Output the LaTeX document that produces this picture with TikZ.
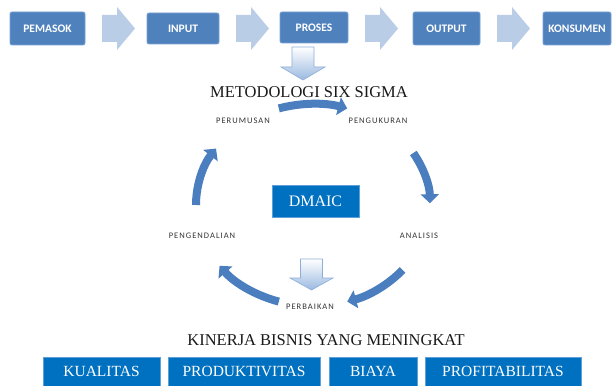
\documentclass[tikz,border=0pt]{standalone}
\usepackage{fontspec}
\setmainfont{Liberation Serif}
\newfontfamily\calib{Carlito}
\newfontfamily\lblf[LetterSpace=12]{Carlito}
\usetikzlibrary{arrows.meta}
\definecolor{topblue}{HTML}{4F81BD}
\definecolor{topedge}{HTML}{7BA1D4}
\definecolor{chevblue}{HTML}{B9CDE6}
\definecolor{boxblue}{HTML}{0070C0}
\definecolor{boxedge}{HTML}{5FA0DA}
\definecolor{cycblue}{HTML}{4A7EBF}
\definecolor{lblgray}{HTML}{333333}
\definecolor{downblue}{HTML}{9BB9E0}
\definecolor{downedge}{HTML}{8DAEDB}
\tikzset{
  topbox/.style={draw=topedge, line width=0.8pt, fill=topblue, rounded corners=2pt, text=white,
    font=\calib\bfseries\fontsize{11.5}{11.5}\selectfont, inner sep=0pt},
  dmaicbox/.style={draw=boxedge, line width=0.6pt, fill=boxblue, text=white,
    font=\fontsize{16}{16}\selectfont, inner sep=0pt},
  kpibox/.style={draw=boxedge, line width=0.6pt, fill=boxblue, text=white,
    font=\fontsize{15.5}{15.5}\selectfont, inner sep=0pt},
  lbl/.style={text=lblgray, font=\lblf\fontsize{8.5}{8.5}\selectfont, inner sep=0pt},
  ttl/.style={text=black!90, font=\fontsize{16.5}{16.5}\selectfont, inner sep=0pt},
  cyc/.style={draw=cycblue, line width=8pt, -{Triangle[width=18pt,length=9pt]}},
  chev/.style={fill=chevblue, draw=none},
  downarr/.style={top color=white, bottom color=downblue, draw=downedge, line width=0.6pt}
}
\begin{document}
\begin{tikzpicture}[x=1pt,y=-1pt]
\useasboundingbox (0,0) rectangle (612,385);
\fill[white] (0,0) rectangle (612,385);

% top chain
\node[topbox, minimum width=75pt, minimum height=33pt] (pemasok) at (47.5,28.5) {PEMASOK};
\node[topbox, minimum width=72pt, minimum height=31pt] (input) at (183,28.5) {INPUT};
\node[topbox, minimum width=68pt, minimum height=31pt] (proses) at (314,27.5) {PROSES};
\node[topbox, minimum width=67pt, minimum height=33pt] (output) at (446.5,28.5) {OUTPUT};
\node[topbox, minimum width=68pt, minimum height=33pt] (konsumen) at (577,28.5) {KONSUMEN};

% block chevrons
\foreach \sx in {102,236,365,497}{
  \fill[chev] (\sx,15) -- (\sx+15,15) -- (\sx+15,7) -- (\sx+33,28.5) -- (\sx+15,50) -- (\sx+15,42) -- (\sx,42) -- cycle;
}

% down arrow under PROSES
\shade[downarr] (292,47) -- (314,47) -- (314,67) -- (325,67) -- (303,80) -- (281,67) -- (292,67) -- cycle;

\node[ttl] (metod) at (309,92) {METODOLOGI SIX SIGMA};

% DMAIC cycle
\coordinate (c) at (313,205);
\node[dmaicbox, minimum width=87pt, minimum height=32pt] (dmaic) at (315.5,201) {DMAIC};
\node[lbl] (perumusan) at (243,121) {PERUMUSAN};
\node[lbl] (pengukuran) at (378,121) {PENGUKURAN};
\node[lbl] (pengendalian) at (202,236) {PENGENDALIAN};
\node[lbl] (analisis) at (419,236) {ANALISIS};
\node[lbl] (perbaikan) at (310,307) {PERBAIKAN};

\draw[cyc] ([shift={(-107:117 and 101)}]c) arc[start angle=-107,end angle=-73,x radius=117,y radius=101];
\draw[cyc] ([shift={(-31:117 and 101)}]c) arc[start angle=-31,end angle=-1,x radius=117,y radius=101];
\draw[cyc] ([shift={(40:117 and 101)}]c) arc[start angle=40,end angle=73,x radius=117,y radius=101];
\draw[cyc] ([shift={(107:117 and 101)}]c) arc[start angle=107,end angle=143,x radius=117,y radius=101];
\draw[cyc] ([shift={(-180:117 and 101)}]c) arc[start angle=-180,end angle=-146,x radius=117,y radius=101];

% down arrow above PERBAIKAN
\shade[downarr] (300.5,259) -- (322.5,259) -- (322.5,278) -- (333,278) -- (311.5,290) -- (290,278) -- (300.5,278) -- cycle;

\node[ttl] (kinerja) at (326,340) {KINERJA BISNIS YANG MENINGKAT};

\node[kpibox, minimum width=117pt, minimum height=29pt] (kualitas) at (101.5,371.5) {KUALITAS};
\node[kpibox, minimum width=152pt, minimum height=29pt] (produktivitas) at (244,371.5) {PRODUKTIVITAS};
\node[kpibox, minimum width=88pt, minimum height=29pt] (biaya) at (373,371.5) {BIAYA};
\node[kpibox, minimum width=156pt, minimum height=29pt] (profit) at (503,371.5) {PROFITABILITAS};
\end{tikzpicture}
\end{document}
